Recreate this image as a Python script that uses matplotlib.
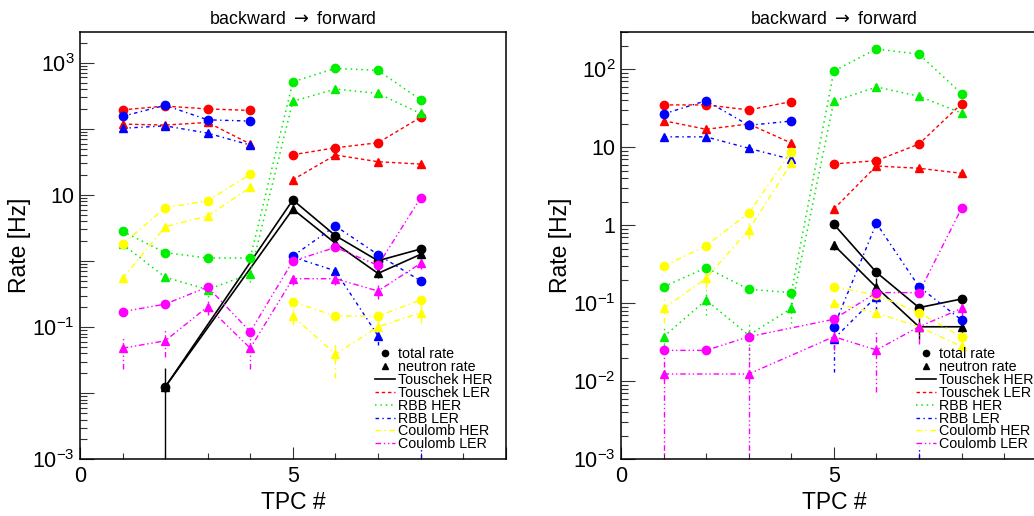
import numpy as np
import matplotlib
matplotlib.use("Agg")
import matplotlib.pyplot as plt
from matplotlib.lines import Line2D
from matplotlib.ticker import LogLocator, FuncFormatter, MultipleLocator, NullFormatter

plt.rcParams['font.family'] = ['Liberation Sans', 'DejaVu Sans']
plt.rcParams['mathtext.fontset'] = 'dejavusans'

nan = np.nan

# ---------------- data ----------------
tpc = [1, 2, 3, 4, 5, 6, 7, 8]
series_names = ["Touschek HER", "Touschek LER", "RBB HER", "RBB LER",
                "Coulomb HER", "Coulomb LER"]
series_colors = ["black", "#ff0000", "#00ee00", "#0000ff", "#ffff00", "#ff00ff"]
series_split = [False, True, False, True, True, False]   # backward/forward drawn apart

# left panel: total rate (circles) / neutron rate (triangles)
a_total = [
    [nan, 0.0124, nan, nan, 8.4, 2.42, 1.01, 1.52],
    [194, 221, 200, 190, 40.6, 51.7, 61.6, 149],
    [2.81, 1.34, 1.11, 1.11, 516, 822, 767, 275],
    [155, 227, 137, 131, 1.19, 3.39, 1.25, 0.50],
    [1.79, 6.39, 8.17, 20.5, 0.242, 0.147, 0.147, 0.257],
    [0.171, 0.223, 0.404, 0.085, 1.00, 1.61, 0.86, 8.97],
]
a_neutron = [
    [nan, 0.0124, nan, nan, 6.1, 1.85, 0.65, 1.26],
    [118, 114, 125, 59, 17.0, 40.2, 31.8, 29.3],
    [1.80, 0.57, 0.37, 0.64, 261, 400, 344, 171],
    [102, 111, 86, 56.9, 1.15, 0.71, 0.074, 0.0005],
    [0.547, 3.30, 4.80, 13.0, 0.147, 0.039, 0.101, 0.165],
    [0.048, 0.062, 0.204, 0.048, 0.54, 0.54, 0.352, 0.92],
]
a_total_err = [
    [0, 0.012, 0, 0, 0, 0, 0, 0],
    [0, 0, 0, 0, 0, 0, 0, 0],
    [0, 0, 0, 0, 0, 0, 0, 0],
    [0, 0, 0, 0, 0, 0, 0, 0],
    [0, 0, 0, 0, 0, 0, 0, 0],
    [0, 0, 0, 0, 0, 0, 0, 0],
]
a_neutron_err = [
    [0, 0, 0, 0, 0, 0.3, 0.1, 0.2],
    [0, 0, 0, 0, 0, 0, 0, 0],
    [0, 0, 0.08, 0.15, 0, 0, 0, 0],
    [0, 0, 0, 0, 0, 0, 0.02, 0.001],
    [0, 0, 0, 0, 0.04, 0.022, 0.03, 0.05],
    [0.025, 0.027, 0.05, 0.025, 0.1, 0.1, 0.09, 0.15],
]

# right panel
b_total = [
    [nan, nan, nan, nan, 1.03, 0.249, 0.088, 0.1135],
    [34.9, 34.9, 30.1, 38.5, 6.11, 6.74, 11.0, 36.2],
    [0.163, 0.286, 0.151, 0.137, 95, 182, 156, 48.7],
    [26.7, 39.6, 19.1, 21.7, 0.050, 1.06, 0.163, 0.061],
    [0.298, 0.548, 1.43, 8.8, 0.163, 0.128, 0.076, 0.037],
    [0.0249, 0.0249, 0.0373, nan, 0.0624, 0.137, 0.137, 1.65],
]
b_neutron = [
    [nan, nan, nan, nan, 0.558, 0.160, 0.050, 0.050],
    [21.9, 17.0, 19.9, 11.3, 1.62, 5.75, 5.38, 4.64],
    [0.0373, 0.110, 0.039, 0.086, 38.9, 59.3, 45.1, 27.5],
    [13.6, 13.6, 9.7, 7.0, 0.035, 0.122, 0.0005, nan],
    [0.086, 0.209, 0.871, 6.23, 0.100, 0.075, 0.050, 0.028],
    [0.0124, nan, 0.0124, nan, 0.0373, 0.0252, 0.050, 0.086],
]
b_total_err = [
    [0, 0, 0, 0, 0, 0, 0, 0],
    [0, 0, 0, 0, 0, 0, 0, 0],
    [0, 0, 0, 0, 0, 0, 0, 0],
    [0, 0, 0, 0, 0, 0, 0, 0],
    [0, 0, 0, 0, 0, 0, 0, 0],
    [0, 0, 0, 0, 0, 0, 0, 0],
]
b_neutron_err = [
    [0, 0, 0, 0, 0.08, 0.05, 0.015, 0.01],
    [0, 0, 0, 0, 0, 0, 0, 0],
    [0.015, 0.04, 0.02, 0.03, 0, 0, 0, 0],
    [0, 0, 0, 0, 0.022, 0.04, 0.001, 0],
    [0.03, 0.05, 0.2, 0, 0, 0, 0, 0],
    [0.018, 0, 0.015, 0, 0.012, 0.018, 0.02, 0.02],
]

title_text = r"backward $\rightarrow$ forward"
x_label = "TPC #"
y_label = "Rate [Hz]"
x_tick_labels = {0: "0", 5: "5"}
a_ylim = (1e-3, 2950)
b_ylim = (1e-3, 303)
a_labeled_decades = [3, 1, -1, -3]
b_labeled_decades = [2, 1, 0, -1, -2, -3]

# ---------------- styles ----------------
line_styles = ["-", (0, (2.5, 2)), (0, (1, 2.5)), (0, (2.5, 2.5, 1, 2.5)),
               (0, (4, 2.5, 1, 2.5)), (0, (4, 2, 1, 2, 1, 2))]
line_widths = [1.2, 1.0, 1.1, 1.0, 1.0, 1.0]


def decade_label(val, pos, labeled):
    e = int(round(np.log10(val)))
    if e not in labeled:
        return ""
    if e == 1:
        return "10"
    if e == 0:
        return "1"
    return r"$\mathregular{10^{%d}}$" % e


def draw_series(ax, values, errs, color, ls, lw, marker, ms, split, ymin):
    x = np.array(tpc, dtype=float)
    v = np.array(values, dtype=float)
    e = np.array(errs, dtype=float)
    segs, cur = [], []
    for xi, vi in zip(x, v):
        if np.isnan(vi):
            continue
        if vi < ymin:
            if cur:
                segs.append(cur)
            cur = []
            continue
        if split and xi >= 5 and cur and cur[-1][0] <= 4:
            segs.append(cur)
            cur = []
        cur.append((xi, vi))
    if cur:
        segs.append(cur)
    for s in segs:
        if len(s) > 1:
            sx, sy = zip(*s)
            ax.plot(sx, sy, color=color, ls=ls, lw=lw, zorder=2)
    ok = ~np.isnan(v) & (e > 0)
    if ok.any():
        eb = ax.errorbar(x[ok], v[ok], yerr=e[ok], fmt="none", ecolor=color,
                         elinewidth=1.0, capsize=0, zorder=2)
        for c in eb[2]:
            c.set_linestyle(ls)
    m = ~np.isnan(v) & (v >= ymin)
    ax.plot(x[m], v[m], ls="none", marker=marker, ms=ms, color=color,
            mec=color, zorder=3)


def make_panel(ax, total, neutron, total_err, neutron_err, ylim, labeled):
    ax.set_yscale("log")
    ax.set_xlim(0, 10)
    ax.set_ylim(*ylim)
    for i in range(len(series_names)):
        draw_series(ax, total[i], total_err[i], series_colors[i], line_styles[i],
                    line_widths[i], "o", 6.0, series_split[i], ylim[0])
        draw_series(ax, neutron[i], neutron_err[i], series_colors[i], line_styles[i],
                    line_widths[i], "^", 5.2, series_split[i], ylim[0])

    ax.xaxis.set_major_locator(MultipleLocator(5))
    ax.xaxis.set_minor_locator(MultipleLocator(1))
    ax.xaxis.set_major_formatter(FuncFormatter(
        lambda v, p: x_tick_labels.get(int(round(v)), "")))
    ax.yaxis.set_major_locator(LogLocator(base=10, numticks=20))
    ax.yaxis.set_minor_locator(LogLocator(base=10, subs=np.arange(2, 10), numticks=20))
    ax.yaxis.set_major_formatter(FuncFormatter(lambda v, p: decade_label(v, p, labeled)))
    ax.yaxis.set_minor_formatter(NullFormatter())
    ax.tick_params(axis="both", which="both", direction="in", top=False, right=False,
                   labelsize=15.5, width=0.8, color="#333333")
    ax.tick_params(axis="y", which="major", length=10, pad=4)
    ax.tick_params(axis="y", which="minor", length=5)
    ax.tick_params(axis="x", which="major", length=9, pad=5)
    ax.tick_params(axis="x", which="minor", length=4.5)
    for sp in ax.spines.values():
        sp.set_linewidth(1.1)

    ax.set_title(title_text, fontsize=12.8, pad=5.5)
    ax.set_xlabel(x_label, fontsize=16.5)
    ax.set_ylabel(y_label, fontsize=16.5)
    ax.xaxis.set_label_coords(0.5, -0.075)
    ax.yaxis.set_label_coords(-0.115, 0.5)

    handles = [Line2D([], [], ls="none", marker="o", color="k", ms=4.5, label="total rate"),
               Line2D([], [], ls="none", marker="^", color="k", ms=4.5, label="neutron rate")]
    for i, name in enumerate(series_names):
        handles.append(Line2D([], [], color=series_colors[i], ls=line_styles[i],
                              lw=line_widths[i], label=name))
    ax.legend(handles=handles, loc="upper left", bbox_to_anchor=(0.692, 0.262),
              frameon=False, fontsize=10.3, handlelength=1.45, handletextpad=0.2,
              labelspacing=-0.08, borderpad=0, borderaxespad=0)


fig = plt.figure(figsize=(10.34, 5.16), dpi=100)
ax1 = fig.add_axes([0.07737, 0.10988, 0.41170, 0.82868])
ax2 = fig.add_axes([0.60058, 0.10988, 0.41170, 0.82868])
make_panel(ax1, a_total, a_neutron, a_total_err, a_neutron_err, a_ylim, a_labeled_decades)
make_panel(ax2, b_total, b_neutron, b_total_err, b_neutron_err, b_ylim, b_labeled_decades)
fig.savefig("out.png", dpi=100)
